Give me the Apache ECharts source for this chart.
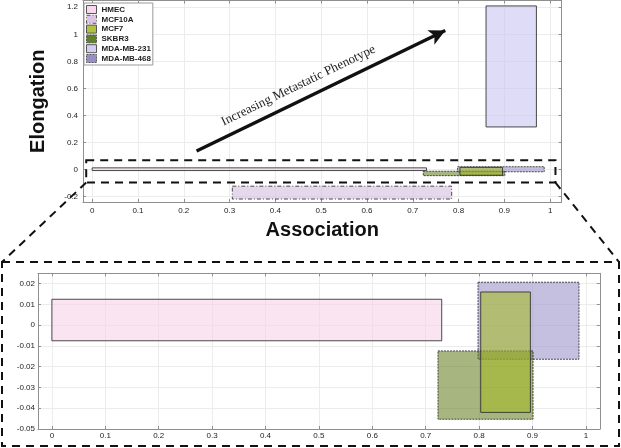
<!DOCTYPE html>
<html>
<head>
<meta charset="utf-8">
<script src="https://cdn.jsdelivr.net/npm/echarts@6/dist/echarts.min.js"></script>
<style>
  html, body { margin: 0; padding: 0; background: #fff; }
  #main { width: 621px; height: 448px; }
</style>
</head>
<body>
<div id="main"></div>
<script>
// cell lines and their association / elongation ranges
const cellLines = ['HMEC', 'MCF10A', 'MCF7', 'SKBR3', 'MDA-MB-231', 'MDA-MB-468']
const assocMin = [0, 0.306, 0.803, 0.723, 0.86, 0.798]
const assocMax = [0.73, 0.785, 0.896, 0.901, 0.97, 0.987]
const elongMin = [-0.0075, -0.218, -0.042, -0.0453, 0.315, -0.0164]
const elongMax = [0.0125, -0.123, 0.016, -0.0124, 1.21, 0.0207]

// tick labels
const xTicks = [0, 0.1, 0.2, 0.3, 0.4, 0.5, 0.6, 0.7, 0.8, 0.9, 1]
const yTicksTop = [-0.2, 0, 0.2, 0.4, 0.6, 0.8, 1, 1.2]
const yTicksZoom = [-0.05, -0.04, -0.03, -0.02, -0.01, 0, 0.01, 0.02]

// the region that is enlarged below, and the arrow (data units of the top plot)
const zoomBox = [-0.013, 1.0116, -0.096, 0.0686]
const arrowFrom = [0.228, 0.137]
const arrowTo = [0.771, 1.028]
const arrowText = 'Increasing Metastatic Phenotype'

const fills = [
  'rgba(247,210,234,0.6)',
  'rgba(213,190,223,0.6)',
  'rgba(165,185,40,0.6)',
  'rgba(95,120,25,0.55)',
  'rgba(200,196,240,0.6)',
  'rgba(158,150,203,0.6)'
]
const legendFills = ['#f8d8ec', '#dcc4e4', '#b0c240', '#62802c', '#d2cef4', '#978ec8']
const dashes = ['solid', [4, 2, 1, 2], 'solid', [2, 1], 'solid', [2, 1]]
// stacking: MCF7 sits on top of SKBR3, which sits on top of MDA-MB-468
const stackZ = [2, 3, 7, 6, 4, 5]

const font = 'Liberation Sans'
const axisColor = '#8f8f8f'

const chart = echarts.init(document.getElementById('main'))

function valueAxis (grid, pos, min, max, ticks, margin) {
  const main = pos === 'bottom' || pos === 'left'
  return {
    type: 'value',
    gridIndex: grid,
    position: pos,
    min: min,
    max: max,
    axisLine: { show: true, onZero: false, lineStyle: { color: axisColor, width: 1 } },
    axisTick: { show: true, inside: true, length: 3, customValues: ticks, lineStyle: { color: axisColor } },
    axisLabel: {
      show: main,
      customValues: ticks,
      margin: margin,
      fontSize: 8,
      fontFamily: font,
      color: '#222',
      formatter: v => String(parseFloat(v.toFixed(4)))
    },
    splitLine: { show: main, lineStyle: { color: '#ececec', width: 1 } }
  }
}

function rectSeries (i, g) {
  return {
    type: 'custom',
    name: cellLines[i],
    xAxisIndex: g * 2,
    yAxisIndex: g * 2,
    z: stackZ[i],
    itemStyle: { color: fills[i], borderColor: '#444', borderWidth: 1, borderType: dashes[i] },
    renderItem: function (params, api) {
      const p0 = api.coord([api.value(0), api.value(3)])
      const p1 = api.coord([api.value(1), api.value(2)])
      const shape = echarts.graphic.clipRectByRect(
        { x: p0[0], y: p0[1], width: p1[0] - p0[0], height: p1[1] - p0[1] },
        params.coordSys
      )
      if (!shape) return null
      return {
        type: 'rect',
        shape: shape,
        style: {
          fill: fills[i],
          stroke: 'rgba(45,45,45,0.85)',
          lineWidth: 1,
          lineDash: dashes[i] === 'solid' ? null : dashes[i]
        }
      }
    },
    data: [[assocMin[i], assocMax[i], elongMin[i], elongMax[i]]]
  }
}

const series = []
for (let g = 0; g < 2; g++) {
  for (let i = 0; i < cellLines.length; i++) series.push(rectSeries(i, g))
}

// arrow on the top plot
series[0].markLine = {
  silent: true,
  animation: false,
  symbol: ['none', 'arrow'],
  symbolSize: [12, 16],
  lineStyle: { color: '#111', width: 3.5, type: 'solid' },
  label: {
    show: true,
    position: 'insideMiddleTop',
    distance: 8,
    padding: [0, 36, 0, 0],
    formatter: arrowText,
    fontFamily: 'Liberation Serif',
    fontSize: 13,
    color: '#222'
  },
  data: [[{ coord: arrowFrom }, { coord: arrowTo }]]
}

const option = {
  backgroundColor: '#fff',
  animation: false,
  grid: [
    { left: 83, top: 0.5, width: 478.6, height: 201.5 },
    { left: 38, top: 273.3, width: 561.8, height: 155.7 }
  ],
  xAxis: [
    Object.assign(valueAxis(0, 'bottom', -0.02, 1.025, xTicks, 5), {
      name: 'Association',
      nameLocation: 'middle',
      nameGap: 18,
      nameTextStyle: { fontSize: 20, fontWeight: 'bold', fontFamily: font, color: '#111' }
    }),
    valueAxis(0, 'top', -0.02, 1.025, xTicks, 5),
    valueAxis(1, 'bottom', -0.026, 1.026, xTicks, 3),
    valueAxis(1, 'top', -0.026, 1.026, xTicks, 3)
  ],
  yAxis: [
    Object.assign(valueAxis(0, 'left', -0.24, 1.25, yTicksTop, 5), {
      name: 'Elongation',
      nameLocation: 'middle',
      nameGap: 35,
      nameTextStyle: { fontSize: 20, fontWeight: 'bold', fontFamily: font, color: '#111' }
    }),
    valueAxis(0, 'right', -0.24, 1.25, yTicksTop, 5),
    valueAxis(1, 'left', -0.05, 0.025, yTicksZoom, 3),
    valueAxis(1, 'right', -0.05, 0.025, yTicksZoom, 3)
  ],
  legend: {
    left: 84,
    top: 3,
    orient: 'vertical',
    padding: [2, 2, 2, 2],
    itemGap: 0.8,
    itemWidth: 10,
    itemHeight: 8,
    borderColor: '#999',
    borderWidth: 1,
    backgroundColor: '#fff',
    textStyle: { fontSize: 8, fontWeight: 'bold', fontFamily: font, color: '#222', lineHeight: 9 },
    data: cellLines.map((n, i) => ({
      name: n,
      icon: 'rect',
      itemStyle: { color: legendFills[i], borderColor: '#555', borderWidth: 1, borderType: dashes[i] }
    }))
  },
  series: series
}

chart.setOption(option)

// dashed frame around the enlarged region and the connectors to the lower plot
const tl = chart.convertToPixel({ gridIndex: 0 }, [zoomBox[0], zoomBox[3]])
const br = chart.convertToPixel({ gridIndex: 0 }, [zoomBox[1], zoomBox[2]])
const dash = { stroke: '#111', lineWidth: 2, lineDash: [8, 6], fill: null }
chart.setOption({
  graphic: [
    { type: 'rect', z: 50, shape: { x: tl[0], y: tl[1], width: br[0] - tl[0], height: br[1] - tl[1] }, style: dash },
    { type: 'rect', z: 50, shape: { x: 2, y: 262, width: 617, height: 184 }, style: dash },
    { type: 'line', z: 50, shape: { x1: tl[0], y1: br[1], x2: 2, y2: 262 }, style: dash },
    { type: 'line', z: 50, shape: { x1: br[0], y1: br[1], x2: 619, y2: 262 }, style: dash }
  ]
})

window.addEventListener('resize', function () {
  chart.resize()
})
</script>
</body>
</html>
